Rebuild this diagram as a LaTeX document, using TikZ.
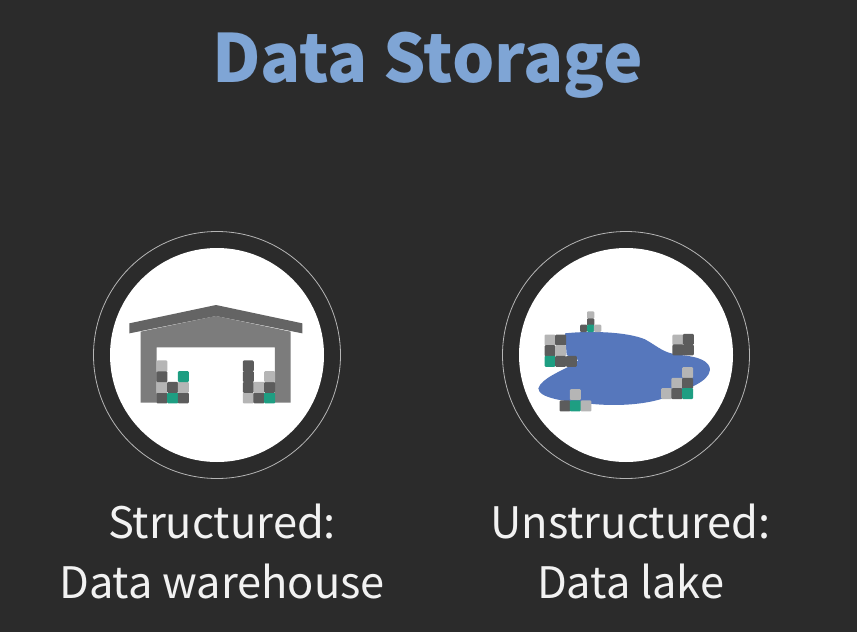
\documentclass[tikz,border=0pt]{standalone}
\usepackage{fontspec}
\setmainfont{Noto Sans CJK SC}
\definecolor{bg}{HTML}{2B2B2B}
\definecolor{ttl}{HTML}{7FA5D5}
\definecolor{lk}{HTML}{5677BC}
\definecolor{dk}{HTML}{5C5C5C}
\definecolor{lt}{HTML}{B5B5B5}
\definecolor{tl}{HTML}{1E9E82}
\definecolor{wall}{HTML}{7C7C7C}
\definecolor{roof}{HTML}{646464}
\tikzset{
  ring/.style={draw=white!65!bg,line width=.8pt},
  disc/.style={fill=white},
  lbl/.style={text=white!95!black,font=\fontsize{43.4}{52}\selectfont,align=center,anchor=base,inner sep=0},
  zoomA/.style={shift={(120,290)},x=.3333pt,y=-.3333pt},
  zoomB/.style={shift={(530,300)},x=.3333pt,y=-.3333pt},
}
\newcommand{\cube}[4]{\fill[#4,rounded corners=1.1pt] (#1-#3/2,#2-#3/2) rectangle (#1+#3/2,#2+#3/2);}
\begin{document}
\begin{tikzpicture}[x=1pt,y=-1pt]
\useasboundingbox (0,0) rectangle (857,632);
\fill[bg] (0,0) rectangle (857,632);
\node[text=ttl,font=\fontsize{66.6}{80}\selectfont\bfseries,inner sep=0,anchor=base] (title) at (427.5,82) {Data Storage};
\draw[ring] (217,355) circle (123.5);
\fill[disc] (217,355) circle (107);
\draw[ring] (626,355) circle (123.5);
\fill[disc] (626,355) circle (107);
\begin{scope}[zoomA]
\fill[wall] (62,125) -- (288,78) -- (512,125) -- (512,338) -- (465,338) -- (465,172) -- (110,172) -- (110,338) -- (62,338) -- cycle;
\fill[roof] (28,100) -- (288,45) -- (547,100) -- (547,130) -- (288,78) -- (28,130) -- cycle;
\foreach \x/\y/\c in {126/324/dk,126/292/lt,126/260/dk,126/228/lt,158/324/tl,158/292/dk,190/324/dk,190/292/lt,190/260/tl,
385/324/lt,385/292/dk,385/260/dk,385/228/dk,417/324/dk,417/292/lt,449/324/tl,449/292/dk,449/260/lt}
  {\cube{\x}{\y}{33}{\c}}
\end{scope}
\begin{scope}[zoomB]
\fill[lk] (25,265) .. controls (35,235) and (90,215) .. (135,190)
  -- (145,180) -- (110,165) -- (105,100)
  .. controls (180,92) and (290,95) .. (345,118)
  .. controls (385,140) and (400,160) .. (450,165)
  .. controls (510,170) and (540,185) .. (540,210)
  .. controls (535,245) and (480,265) .. (400,295)
  .. controls (340,315) and (250,320) .. (170,310)
  .. controls (110,305) and (25,295) .. (25,265) -- cycle;
\foreach \x/\y/\c in {182/45/lt,182/66/dk,161/85/dk,182/85/tl,203/85/lt}
  {\cube{\x}{\y}{22}{\c}}
\foreach \x/\y/\c in {60/120/lt,92/120/dk,60/152/dk,92/152/lt,60/184/tl,92/184/dk,124/184/dk,
444/120/lt,475/118/dk,444/150/dk,475/150/dk,
473/218/lt,441/250/lt,473/250/dk,410/281/lt,441/281/dk,473/281/tl,
136/284/lt,105/318/dk,136/318/tl,168/318/lt}
  {\cube{\x}{\y}{33}{\c}}
\end{scope}
\node[lbl] (s1) at (222,538) {Structured:};
\node[lbl] (s2) at (222,598) {Data warehouse};
\node[lbl] (u1) at (630.5,538) {Unstructured:};
\node[lbl] (u2) at (630.5,598) {Data lake};
\end{tikzpicture}
\end{document}
